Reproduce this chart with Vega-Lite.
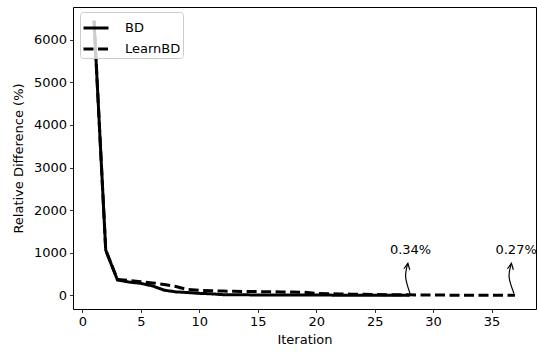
{
  "$schema": "https://vega.github.io/schema/vega-lite/v6.json",
  "width": 463,
  "height": 302,
  "autosize": "none",
  "padding": {"left": 73, "top": 7, "right": 1, "bottom": 45},
  "background": "white",
  "config": {
    "font": "DejaVu Sans",
    "view": {"stroke": "black", "strokeWidth": 1},
    "axis": {
      "domain": false,
      "grid": false,
      "tickColor": "black",
      "tickSize": 3.5,
      "tickWidth": 0.8,
      "labelFontSize": 13,
      "labelColor": "black",
      "labelPadding": 3,
      "titleFontSize": 13,
      "titleFontWeight": "normal",
      "titleColor": "black"
    },
    "legend": {
      "orient": "none",
      "legendX": 7,
      "legendY": 5,
      "title": null,
      "padding": 2,
      "labelFontSize": 13,
      "labelFontWeight": "normal",
      "labelColor": "black",
      "labelOffset": 15,
      "symbolType": "stroke",
      "symbolSize": 625,
      "symbolStrokeWidth": 3,
      "symbolStrokeColor": "black",
      "rowPadding": -6,
      "fillColor": "rgba(255,255,255,0.8)",
      "strokeColor": "#cccccc",
      "cornerRadius": 3
    }
  },
  "datasets": {
    "lines": [
      {"iter": 1, "val": 6450, "method": "BD"},
      {"iter": 2, "val": 1060, "method": "BD"},
      {"iter": 3, "val": 360, "method": "BD"},
      {"iter": 4, "val": 310, "method": "BD"},
      {"iter": 5, "val": 280, "method": "BD"},
      {"iter": 6, "val": 220, "method": "BD"},
      {"iter": 7, "val": 120, "method": "BD"},
      {"iter": 8, "val": 80, "method": "BD"},
      {"iter": 9, "val": 65, "method": "BD"},
      {"iter": 10, "val": 45, "method": "BD"},
      {"iter": 11, "val": 35, "method": "BD"},
      {"iter": 12, "val": 15, "method": "BD"},
      {"iter": 13, "val": 12, "method": "BD"},
      {"iter": 14, "val": 10, "method": "BD"},
      {"iter": 15, "val": 9, "method": "BD"},
      {"iter": 16, "val": 8, "method": "BD"},
      {"iter": 17, "val": 7, "method": "BD"},
      {"iter": 18, "val": 6, "method": "BD"},
      {"iter": 19, "val": 5, "method": "BD"},
      {"iter": 20, "val": 4.5, "method": "BD"},
      {"iter": 21, "val": 4, "method": "BD"},
      {"iter": 22, "val": 3.5, "method": "BD"},
      {"iter": 23, "val": 3, "method": "BD"},
      {"iter": 24, "val": 2.5, "method": "BD"},
      {"iter": 25, "val": 2, "method": "BD"},
      {"iter": 26, "val": 1.5, "method": "BD"},
      {"iter": 27, "val": 1, "method": "BD"},
      {"iter": 28, "val": 0.34, "method": "BD"},
      {"iter": 1, "val": 6450, "method": "LearnBD"},
      {"iter": 2, "val": 1060, "method": "LearnBD"},
      {"iter": 3, "val": 370, "method": "LearnBD"},
      {"iter": 4, "val": 350, "method": "LearnBD"},
      {"iter": 5, "val": 320, "method": "LearnBD"},
      {"iter": 6, "val": 290, "method": "LearnBD"},
      {"iter": 7, "val": 255, "method": "LearnBD"},
      {"iter": 8, "val": 205, "method": "LearnBD"},
      {"iter": 9, "val": 135, "method": "LearnBD"},
      {"iter": 10, "val": 115, "method": "LearnBD"},
      {"iter": 11, "val": 105, "method": "LearnBD"},
      {"iter": 12, "val": 98, "method": "LearnBD"},
      {"iter": 13, "val": 94, "method": "LearnBD"},
      {"iter": 14, "val": 90, "method": "LearnBD"},
      {"iter": 15, "val": 86, "method": "LearnBD"},
      {"iter": 16, "val": 82, "method": "LearnBD"},
      {"iter": 17, "val": 79, "method": "LearnBD"},
      {"iter": 18, "val": 76, "method": "LearnBD"},
      {"iter": 19, "val": 72, "method": "LearnBD"},
      {"iter": 20, "val": 42, "method": "LearnBD"},
      {"iter": 21, "val": 37, "method": "LearnBD"},
      {"iter": 22, "val": 32, "method": "LearnBD"},
      {"iter": 23, "val": 27, "method": "LearnBD"},
      {"iter": 24, "val": 22, "method": "LearnBD"},
      {"iter": 25, "val": 18, "method": "LearnBD"},
      {"iter": 26, "val": 15, "method": "LearnBD"},
      {"iter": 27, "val": 12, "method": "LearnBD"},
      {"iter": 28, "val": 10, "method": "LearnBD"},
      {"iter": 29, "val": 7, "method": "LearnBD"},
      {"iter": 30, "val": 5, "method": "LearnBD"},
      {"iter": 31, "val": 4, "method": "LearnBD"},
      {"iter": 32, "val": 3, "method": "LearnBD"},
      {"iter": 33, "val": 2, "method": "LearnBD"},
      {"iter": 34, "val": 1.5, "method": "LearnBD"},
      {"iter": 35, "val": 1, "method": "LearnBD"},
      {"iter": 36, "val": 0.6, "method": "LearnBD"},
      {"iter": 37, "val": 0.27, "method": "LearnBD"}
    ],
    "arrows": [
      {"id": "a", "ord": 1, "iter": 28.03, "val": 40},
      {"id": "a", "ord": 2, "iter": 27.65, "val": 430},
      {"id": "a", "ord": 3, "iter": 27.84, "val": 750},
      {"id": "b", "ord": 1, "iter": 36.92, "val": 40},
      {"id": "b", "ord": 2, "iter": 36.5, "val": 430},
      {"id": "b", "ord": 3, "iter": 36.7, "val": 750}
    ],
    "notes": [
      {"iter": 28.07, "val": 1060, "label": "0.34%"},
      {"iter": 37.1, "val": 1060, "label": "0.27%"}
    ]
  },
  "layer": [
    {
      "data": {"name": "lines"},
      "mark": {"type": "line", "color": "black", "strokeWidth": 3},
      "encoding": {
        "x": {
          "field": "iter",
          "type": "quantitative",
          "scale": {"domain": [-0.8, 38.8], "nice": false, "zero": false},
          "axis": {"values": [0, 5, 10, 15, 20, 25, 30, 35], "title": "Iteration", "titlePadding": 5}
        },
        "y": {
          "field": "val",
          "type": "quantitative",
          "scale": {"domain": [-322, 6770], "nice": false, "zero": false},
          "axis": {"values": [0, 1000, 2000, 3000, 4000, 5000, 6000], "format": "d", "title": "Relative Difference (%)", "titlePadding": 8}
        },
        "strokeDash": {
          "field": "method",
          "type": "nominal",
          "scale": {"domain": ["BD", "LearnBD"], "range": [[1, 0], [10, 4.5]]}
        }
      }
    },
    {
      "data": {"name": "arrows"},
      "mark": {"type": "line", "color": "black", "strokeWidth": 1.2, "interpolate": "natural"},
      "encoding": {
        "x": {"field": "iter", "type": "quantitative"},
        "y": {"field": "val", "type": "quantitative"},
        "detail": {"field": "id"},
        "order": {"field": "ord"}
      }
    },
    {
      "data": {"name": "arrows"},
      "transform": [{"filter": "datum.ord == 3"}],
      "mark": {"type": "point", "shape": "M-0.5,1L0,0L0.5,1", "filled": false, "stroke": "black", "strokeWidth": 1.2, "size": 144, "angle": 10, "opacity": 1},
      "encoding": {
        "x": {"field": "iter", "type": "quantitative"},
        "y": {"field": "val", "type": "quantitative"}
      }
    },
    {
      "data": {"name": "notes"},
      "mark": {"type": "text", "fontSize": 13, "color": "black", "align": "center", "baseline": "middle"},
      "encoding": {
        "x": {"field": "iter", "type": "quantitative"},
        "y": {"field": "val", "type": "quantitative"},
        "text": {"field": "label"}
      }
    }
  ]
}
